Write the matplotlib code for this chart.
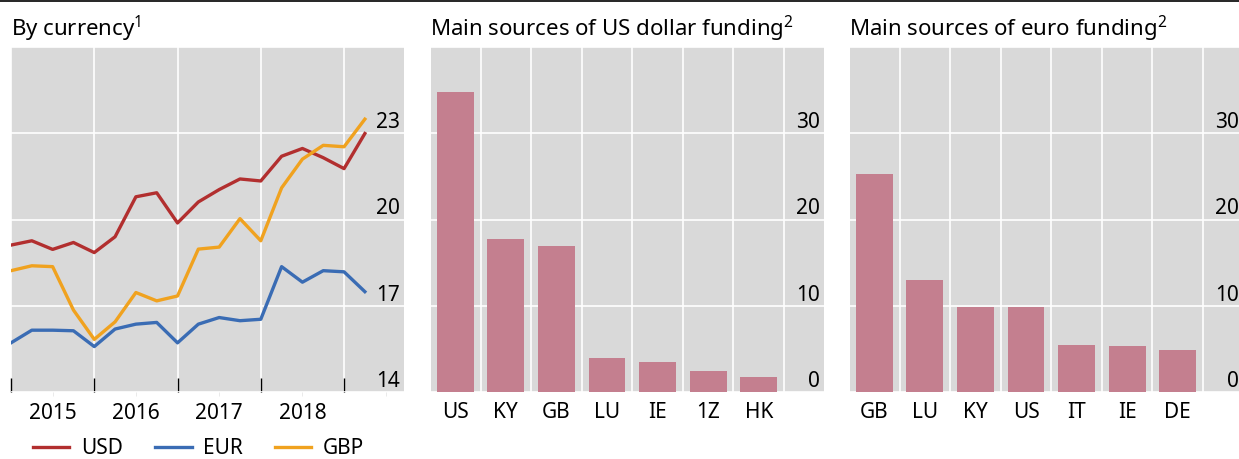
import matplotlib
matplotlib.use('Agg')
import matplotlib.pyplot as plt
from matplotlib.lines import Line2D

plt.rcParams['font.family'] = ['Noto Sans', 'DejaVu Sans']
plt.rcParams['mathtext.default'] = 'regular'

# By currency, quarterly, 2015 Q1 - 2019 Q2
quarters = [2015 + 0.25 * i for i in range(18)]
usd = [19.11, 19.26, 18.96, 19.20, 18.85, 19.40, 20.79, 20.93, 19.88,
       20.61, 21.04, 21.41, 21.34, 22.20, 22.47, 22.15, 21.77, 22.99]
eur = [15.71, 16.15, 16.15, 16.13, 15.58, 16.19, 16.36, 16.42, 15.71,
       16.36, 16.59, 16.48, 16.53, 18.36, 17.82, 18.22, 18.18, 17.49]
gbp = [18.22, 18.39, 18.36, 16.85, 15.83, 16.44, 17.46, 17.17, 17.34,
       18.97, 19.04, 20.03, 19.26, 21.10, 22.10, 22.58, 22.53, 23.49]
year_labels = ['2015', '2016', '2017', '2018', '']

# Main sources of funding
usd_src = ['US', 'KY', 'GB', 'LU', 'IE', '1Z', 'HK']
usd_val = [34.8, 17.7, 16.9, 4.0, 3.5, 2.4, 1.7]
eur_src = ['GB', 'LU', 'KY', 'US', 'IT', 'IE', 'DE']
eur_val = [25.3, 13.0, 9.9, 9.8, 5.4, 5.3, 4.9]

bg = '#d9d9d9'
bar_col = '#c47f8f'
col_usd = '#b22f2f'
col_eur = '#3a6cb4'
col_gbp = '#f0a21f'
W, H = 1239, 459
fs_tick = 15
fs_title = 16

fig = plt.figure(figsize=(W / 100, H / 100), dpi=100)
fig.add_artist(Line2D([0, 1], [0.998, 0.998], color='black', lw=1.2,
                      transform=fig.transFigure))


def make_axes(left_px, width_px):
    ax = fig.add_axes([left_px / W, (H - 392) / H, width_px / W, 345 / H])
    ax.set_facecolor(bg)
    for s in ax.spines.values():
        s.set_visible(False)
    ax.yaxis.tick_right()
    ax.tick_params(axis='y', length=0, pad=-3, labelsize=fs_tick)
    ax.tick_params(axis='x', labelsize=fs_tick)
    ax.set_axisbelow(True)
    return ax


def right_labels(ax):
    for lab in ax.get_yticklabels():
        lab.set_horizontalalignment('right')
        lab.set_verticalalignment('bottom')


# Panel 1
ax1 = make_axes(11, 393)
l_usd, = ax1.plot(quarters, usd, color=col_usd, lw=2.4, label='USD')
l_eur, = ax1.plot(quarters, eur, color=col_eur, lw=2.4, label='EUR')
l_gbp, = ax1.plot(quarters, gbp, color=col_gbp, lw=2.4, label='GBP')
ax1.set_xlim(2015, 2019.72)
ax1.set_ylim(14, 26)
ax1.set_yticks([14, 17, 20, 23])
ax1.set_xticks([2015, 2016, 2017, 2018, 2019])
ax1.set_xticklabels([])
ax1.set_xticks([2015.5, 2016.5, 2017.5, 2018.5, 2019.5], minor=True)
ax1.set_xticklabels(year_labels, minor=True)
ax1.tick_params(axis='x', which='major', direction='in', length=10,
                width=1, color='black')
ax1.tick_params(axis='x', which='minor', direction='out', length=3,
                color='#e6e6e6', labelsize=fs_tick, pad=5)
ax1.grid(True, color='white', lw=1.2)
ax1.axhline(26, color='white', lw=1.2)
right_labels(ax1)


# Bar panels
def bar_panel(left_px, cats, vals):
    ax = make_axes(left_px, 393)
    x = list(range(len(cats)))
    ax.bar(x, vals, width=0.73, color=bar_col, zorder=2)
    ax.set_xlim(-0.48, 7.29)
    ax.set_ylim(0, 40)
    ax.set_yticks([0, 10, 20, 30])
    ax.set_xticks(x)
    ax.set_xticklabels(cats)
    ax.set_xticks([i + 0.5 for i in x], minor=True)
    ax.tick_params(axis='x', which='both', length=0, pad=7)
    ax.grid(True, axis='y', color='white', lw=1.2)
    ax.grid(True, axis='x', which='minor', color='white', lw=1.2)
    ax.axhline(40, color='white', lw=1.2)
    right_labels(ax)
    return ax


ax2 = bar_panel(431, usd_src, usd_val)
ax3 = bar_panel(850, eur_src, eur_val)

title_y = (H - 36) / H
fig.text(11 / W, title_y, 'By currency$^{1}$', fontsize=fs_title,
         va='baseline')
fig.text(430 / W, title_y, 'Main sources of US dollar funding$^{2}$',
         fontsize=fs_title, va='baseline')
fig.text(849 / W, title_y, 'Main sources of euro funding$^{2}$',
         fontsize=fs_title, va='baseline')

fig.legend(handles=[l_usd, l_eur, l_gbp], loc='center left',
           bbox_to_anchor=(33 / W, (H - 449) / H), ncol=3, frameon=False,
           fontsize=fs_tick, handlelength=1.75, handletextpad=0.55,
           columnspacing=1.55, borderaxespad=0, borderpad=0)

fig.savefig('out.png', dpi=100)
